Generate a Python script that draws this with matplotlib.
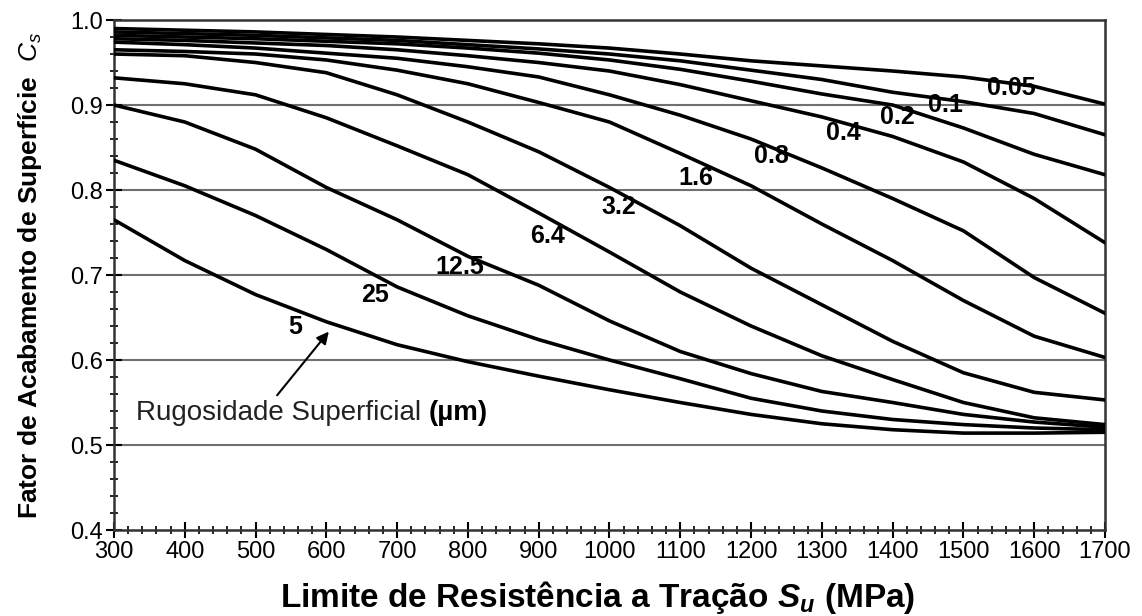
import matplotlib.pyplot as plt
from matplotlib.ticker import MultipleLocator

plt.rcParams['font.family'] = ['Liberation Sans', 'DejaVu Sans']
plt.rcParams['mathtext.fontset'] = 'custom'
plt.rcParams['mathtext.rm'] = 'Liberation Sans'
plt.rcParams['mathtext.it'] = 'Liberation Sans:italic'
plt.rcParams['mathtext.bf'] = 'Liberation Sans:bold'
plt.rcParams['mathtext.bfit'] = 'Liberation Sans:italic:bold'

su = [300, 400, 500, 600, 700, 800, 900, 1000, 1100, 1200, 1300, 1400, 1500, 1600, 1700]

# surface factor Cs for each roughness (um)
cs_005 = [0.990, 0.988, 0.986, 0.983, 0.980, 0.976, 0.972, 0.967, 0.960, 0.952, 0.946, 0.940, 0.933, 0.922, 0.901]
cs_01 = [0.986, 0.984, 0.982, 0.979, 0.976, 0.971, 0.966, 0.960, 0.952, 0.941, 0.930, 0.915, 0.904, 0.890, 0.865]
cs_02 = [0.982, 0.980, 0.978, 0.975, 0.972, 0.967, 0.961, 0.953, 0.942, 0.928, 0.913, 0.900, 0.873, 0.842, 0.818]
cs_04 = [0.978, 0.976, 0.973, 0.970, 0.965, 0.958, 0.950, 0.940, 0.924, 0.905, 0.886, 0.863, 0.833, 0.790, 0.738]
cs_08 = [0.974, 0.971, 0.967, 0.961, 0.955, 0.945, 0.933, 0.912, 0.888, 0.860, 0.826, 0.790, 0.752, 0.697, 0.655]
cs_16 = [0.965, 0.963, 0.960, 0.953, 0.941, 0.925, 0.903, 0.880, 0.843, 0.805, 0.760, 0.717, 0.670, 0.628, 0.603]
cs_32 = [0.960, 0.958, 0.950, 0.938, 0.912, 0.880, 0.845, 0.803, 0.758, 0.708, 0.665, 0.622, 0.585, 0.562, 0.553]
cs_64 = [0.932, 0.925, 0.912, 0.885, 0.852, 0.818, 0.773, 0.727, 0.680, 0.640, 0.605, 0.577, 0.550, 0.532, 0.524]
cs_125 = [0.900, 0.880, 0.848, 0.803, 0.765, 0.722, 0.688, 0.646, 0.610, 0.584, 0.563, 0.550, 0.536, 0.527, 0.521]
cs_25 = [0.835, 0.805, 0.770, 0.730, 0.686, 0.652, 0.624, 0.600, 0.578, 0.555, 0.540, 0.530, 0.524, 0.520, 0.518]
cs_5 = [0.765, 0.717, 0.677, 0.645, 0.618, 0.598, 0.581, 0.565, 0.550, 0.536, 0.525, 0.518, 0.514, 0.514, 0.515]

curves = [cs_005, cs_01, cs_02, cs_04, cs_08, cs_16, cs_32, cs_64, cs_125, cs_25, cs_5]
labels = ['0.05', '0.1', '0.2', '0.4', '0.8', '1.6', '3.2', '6.4', '12.5', '25', '5']
label_pos = [(1568, 0.920), (1474, 0.900), (1406, 0.886), (1330, 0.867), (1228, 0.840),
             (1122, 0.814), (1013, 0.780), (912, 0.746), (789, 0.710), (669, 0.677), (556, 0.639)]

fig = plt.figure(figsize=(11.42, 6.16), dpi=100)
ax = fig.add_axes([0.0998, 0.1396, 0.8678, 0.8279])

for y in [0.5, 0.6, 0.7, 0.8, 0.9]:
    ax.axhline(y, color='#707070', lw=1.5, zorder=1)

for c in curves:
    ax.plot(su, c, color='black', lw=2.6, zorder=3, solid_joinstyle='round')

for lab, (x, y) in zip(labels, label_pos):
    ax.text(x, y, lab, fontsize=18, fontweight='bold', ha='center', va='center', zorder=4)

ax.annotate('', xy=(606, 0.636), xytext=(528, 0.556),
            arrowprops=dict(arrowstyle='-|>', color='black', lw=1.5, mutation_scale=18))
t1 = ax.text(331, 0.538, 'Rugosidade Superficial ', fontsize=20, ha='left', va='center', color='#222222')
ax.annotate('(µm)', xy=(1, 0.5), xycoords=t1, fontsize=20, fontweight='bold', ha='left', va='center')

ax.set_xlim(300, 1700)
ax.set_ylim(0.4, 1.0)
ax.xaxis.set_major_locator(MultipleLocator(100))
ax.xaxis.set_minor_locator(MultipleLocator(20))
ax.yaxis.set_major_locator(MultipleLocator(0.1))
ax.yaxis.set_minor_locator(MultipleLocator(0.02))
ax.yaxis.set_major_formatter(lambda v, p: f'{v:.1f}')
ax.tick_params(which='major', direction='inout', length=12, width=1.5, labelsize=17, colors='black')
ax.tick_params(which='minor', direction='inout', length=6, width=1.2)
ax.tick_params(axis='x', pad=2)
ax.tick_params(axis='y', pad=2)
for s in ax.spines.values():
    s.set_linewidth(1.8)
    s.set_color('#333333')

ax.set_xlabel('Limite de Resistência a Tração $\\mathbfit{S_u}$ (MPa)', fontsize=24, fontweight='bold')
ax.set_ylabel('Fator de Acabamento de Superfície  $C_s$', fontsize=19, fontweight='bold')
ax.xaxis.set_label_coords(0.488, -0.097)
ax.yaxis.set_label_coords(-0.071, 0.5)

fig.savefig('out.png', dpi=100)
